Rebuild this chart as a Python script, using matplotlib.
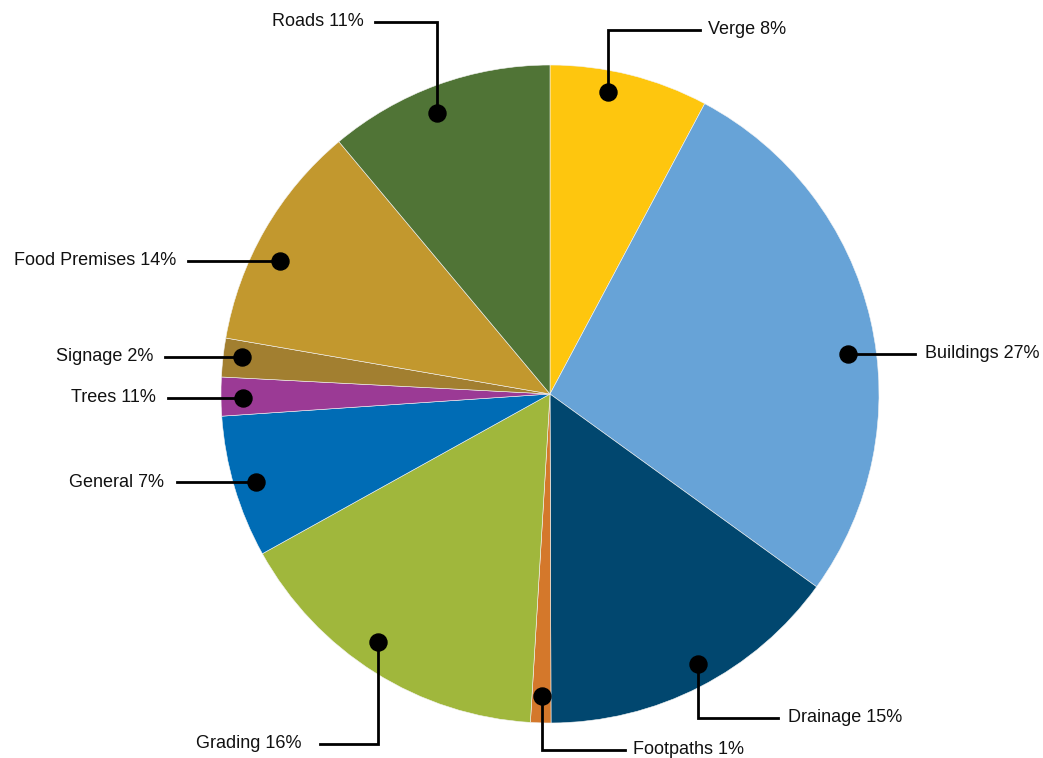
import numpy as np
import matplotlib
matplotlib.use("Agg")
import matplotlib.pyplot as plt

plt.rcParams['font.family'] = ['Liberation Sans', 'DejaVu Sans']

# Slice sizes and the label texts shown on the chart
categories = ['Verge', 'Buildings', 'Drainage', 'Footpaths', 'Grading',
              'General', 'Trees', 'Signage', 'Food Premises', 'Roads']
values = [7.8, 27.2, 15.0, 1.0, 16.0, 7.0, 1.9, 1.9, 11.2, 11.1]
label_pct = ['8%', '27%', '15%', '1%', '16%', '7%', '11%', '2%', '14%', '11%']
colors = ['#FEC60E', '#67A3D7', '#01476F', '#D4782B', '#A0B73C',
          '#006CB5', '#9B3A95', '#A27F30', '#C2982E', '#507436']

W, H = 1043, 758
fig = plt.figure(figsize=(W / 100, H / 100), dpi=100)
ax = fig.add_axes([0, 0, 1, 1])

cx, cy, R = 550, H - 394, 329
wedges, _ = ax.pie(values, colors=colors, startangle=90, counterclock=False,
                   center=(cx, cy), radius=R,
                   wedgeprops=dict(linewidth=0.4, edgecolor='#f4f4f4'))

# leader layout: (fraction along wedge (clockwise), radius factor,
#                 mode, y of elbow in pixels, end x of line, text x, alignment)
layout = [
    (0.39, 0.935, 'v', 30, 700, 708, 'left'),
    (0.555, 0.914, 'h', None, 915, 925, 'left'),
    (0.47, 0.936, 'v', 718, 778, 788, 'left'),
    (0.47, 0.918, 'v', 750, 625, 633, 'left'),
    (0.545, 0.918, 'v', 744, 320, 302, 'right'),
    (0.49, 0.932, 'h', None, 177, 164, 'right'),
    (0.47, 0.933, 'h', None, 168, 156, 'right'),
    (0.58, 0.942, 'h', None, 165, 153, 'right'),
    (0.41, 0.915, 'h', None, 188, 176, 'right'),
    (0.45, 0.921, 'v', 22, 375, 364, 'right'),
]

for w, name, pct, (fr, rf, mode, ly, ex, tx, ha) in zip(wedges, categories, label_pct, layout):
    # counterclock=False: theta2 is the start, going clockwise toward theta1
    ang = np.deg2rad(w.theta2 - fr * (w.theta2 - w.theta1))
    dx = cx + rf * R * np.cos(ang)
    dy = cy + rf * R * np.sin(ang)
    if mode == 'v':
        yy = H - ly
        ax.plot([dx, dx, ex], [dy, yy, yy], color='black', lw=2, zorder=3,
                solid_joinstyle='miter')
    else:
        yy = dy
        ax.plot([dx, ex], [dy, dy], color='black', lw=2, zorder=3)
    ax.scatter([dx], [dy], s=150, color='black', zorder=4)
    ax.text(tx, yy, f'{name} {pct}', ha=ha, va='center', fontsize=13,
            color='#111111')

ax.set_xlim(0, W)
ax.set_ylim(0, H)
ax.set_aspect('equal')
ax.axis('off')

fig.savefig('out.png', dpi=100)
